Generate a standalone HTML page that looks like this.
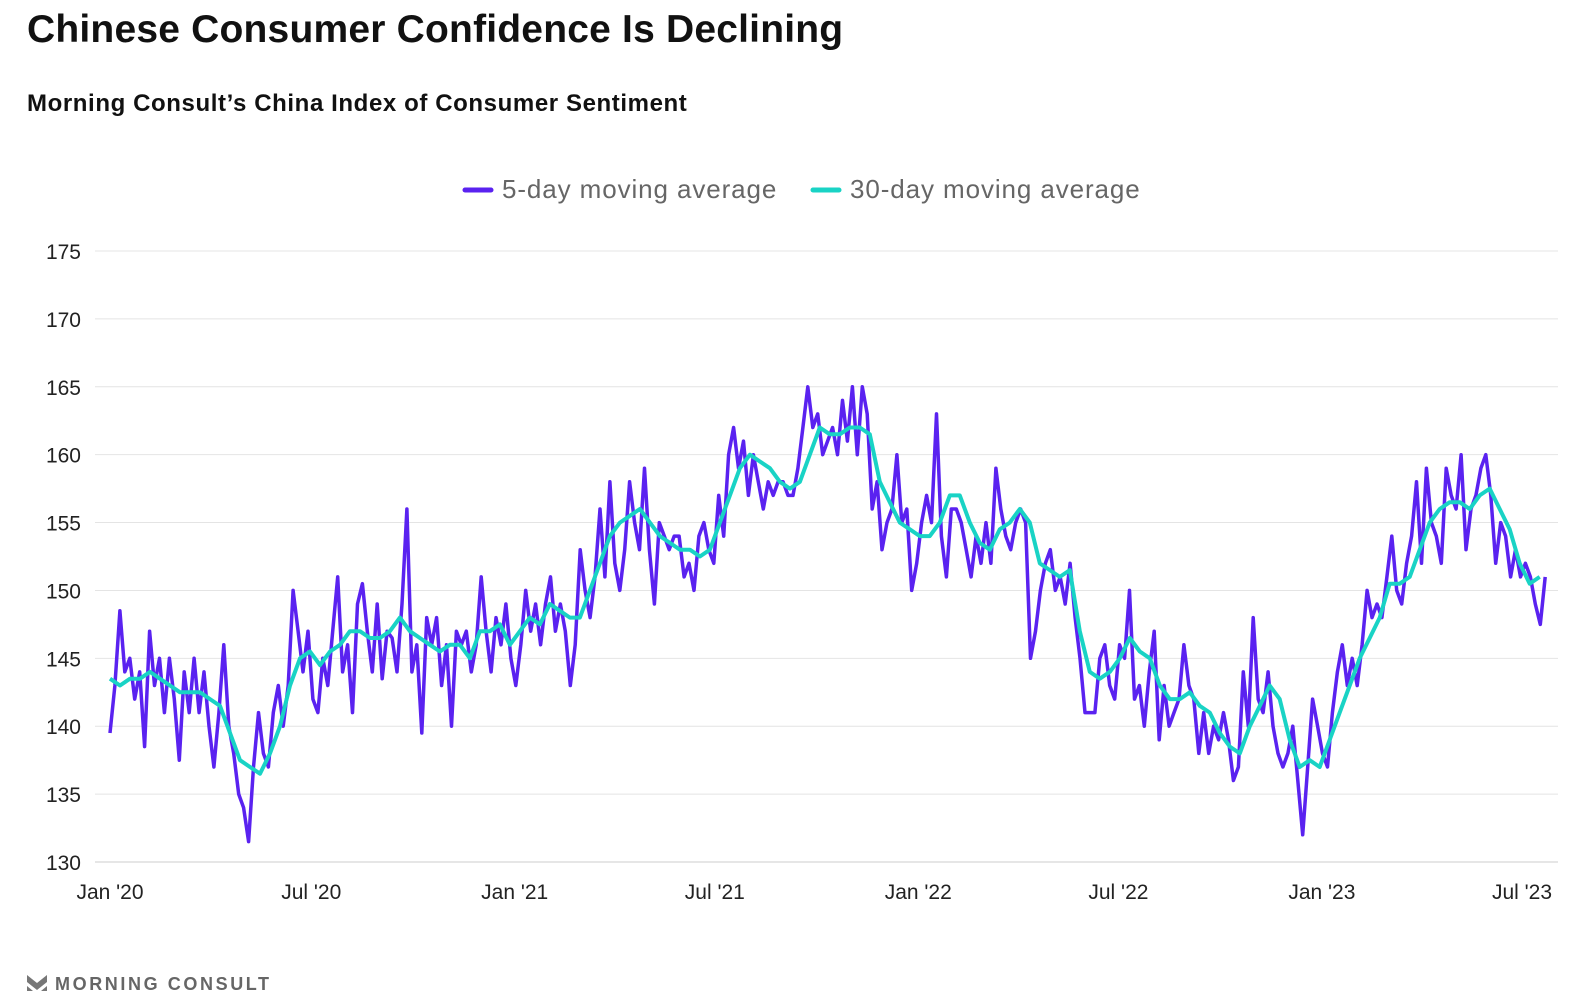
<!DOCTYPE html>
<html><head><meta charset="utf-8">
<style>
body{margin:0;width:1571px;height:1001px;background:#fff;font-family:"Liberation Sans",sans-serif;overflow:hidden;position:relative}
#title{position:absolute;left:27px;top:8px;font-size:39px;font-weight:bold;color:#111;margin:0;letter-spacing:0.2px}
#sub{position:absolute;left:27px;top:90px;font-size:24px;font-weight:bold;color:#111;margin:0;letter-spacing:0.6px}
#logo{position:absolute;left:27px;top:972px;font-size:18px;font-weight:bold;color:#666;letter-spacing:2.6px}
svg{position:absolute;left:0;top:0}
</style></head><body>
<h1 id="title">Chinese Consumer Confidence Is Declining</h1>
<h2 id="sub">Morning Consult’s China Index of Consumer Sentiment</h2>
<div id="logo"><svg width="20" height="18" style="position:relative;left:0;top:3px;margin-right:8px"><path d="M0 0 L10 8 L20 0 L20 7 L10 15 L0 7Z M0 11 L6 16 L0 16Z M20 11 L14 16 L20 16Z" fill="#777"/></svg>MORNING CONSULT</div>
<svg id="chart" width="1571" height="1001"></svg>
<script>
const yTicks=[130,135,140,145,150,155,160,165,170,175];
const xTickLabels=["Jan '20","Jul '20","Jan '21","Jul '21","Jan '22","Jul '22","Jan '23","Jul '23"];
const xTickDays=[0,182,366,547,731,912,1096,1277];
const fiveDayStart=0, fiveDayEnd=1298;
const fiveDay=[139.5,143,148.5,144,145,142,144,138.5,147,143,145,141,145,142,137.5,144,141,145,141,144,140,137,141,146,140,138,135,134,131.5,137,141,138,137,141,143,140,143,150,147,144,147,142,141,145,143,147,151,144,146,141,149,150.5,147,144,149,143.5,147,146.5,144,149,156,144,146,139.5,148,146,148,143,146,140,147,146,147,144,146,151,147,144,148,146,149,145,143,146,150,147,149,146,149,151,147,149,147,143,146,153,150,148,151,156,151,158,152,150,153,158,155,153,159,153,149,155,154,153,154,154,151,152,150,154,155,153,152,157,154,160,162,159,161,157,160,158,156,158,157,158,158,157,157,159,162,165,162,163,160,161,162,160,164,161,165,160,165,163,156,158,153,155,156,160,155,156,150,152,155,157,155,163,154,151,156,156,155,153,151,154,152,155,152,159,156,154,153,155,156,155,145,147,150,152,153,150,151,149,152,148,145,141,141,141,145,146,143,142,146,145,150,142,143,140,144,147,139,143,140,141,142,146,143,142,138,141,138,140,139,141,139,136,137,144,140,148,142,141,144,140,138,137,138,140,136,132,137,142,140,138,137,141,144,146,143,145,143,146,150,148,149,148,151,154,150,149,152,154,158,152,159,155,154,152,159,157,156,160,153,156,157,159,160,157,152,155,154,151,153,151,152,151,149,147.5,151];
const thirtyStart=0, thirtyEnd=1293;
const thirtyDay=[143.5,143,143.5,143.5,144,143.5,143,142.5,142.5,142.5,142,141.5,139.5,137.5,137,136.5,138,140,143,145,145.5,144.5,145.5,146,147,147,146.5,146.5,147,148,147,146.5,146,145.5,146,146,145,147,147,147.5,146,147,148,147.5,149,148.5,148,148,150,152,154,155,155.5,156,155,154,153.5,153,153,152.5,153,155,157,159,160,159.5,159,158,157.5,158,160,162,161.5,161.5,162,162,161.5,158,156.5,155,154.5,154,154,155,157,157,155,153.5,153,154.5,155,156,155,152,151.5,151,151.5,147,144,143.5,144,145,146.5,145.5,145,143,142,142,142.5,141.5,141,139.5,138.5,138,140,141.5,143,142,139,137,137.5,137,139,141,143,145,146.5,148,150.5,150.5,151,153,155,156,156.5,156.5,156,157,157.5,156,154.5,152,150.5,151];

const NS="http://www.w3.org/2000/svg";
const svg=document.getElementById('chart');
const X=d=>110+d*(1522-110)/1277;
const Y=v=>862-(v-130)*(862-251)/45;
function mk(tag,attrs,parent){const e=document.createElementNS(NS,tag);for(const k in attrs)e.setAttribute(k,attrs[k]);(parent||svg).appendChild(e);return e;}
yTicks.forEach(t=>{
  const l=mk('line',{x1:95,x2:1558,y1:Y(t),y2:Y(t),stroke:t===130?'#ccc':'#e4e4e4','stroke-width':1});
  
  
  const tx=mk('text',{x:81,y:Y(t)+8,'text-anchor':'end','font-size':21,fill:'#222','font-family':'Liberation Sans'});
  tx.textContent=t;
  
  
});
xTickLabels.forEach((lab,i)=>{
  const tx=mk('text',{x:X(xTickDays[i]),y:899,'text-anchor':'middle','font-size':21,fill:'#222','font-family':'Liberation Sans'});
  tx.textContent=lab;
  
  
});
function series(vals,s,e,color,w,name){
  const step=(e-s)/(vals.length-1);
  const d=vals.map((v,i)=>(i?'L':'M')+X(s+i*step).toFixed(1)+' '+Y(v).toFixed(1)).join('');
  const p=mk('path',{d:d,fill:'none',stroke:color,'stroke-width':w,'stroke-linejoin':'round'});
  
  
}
series(fiveDay,fiveDayStart,fiveDayEnd,'#5a22f0',3.5,'five-day-line');
series(thirtyDay,thirtyStart,thirtyEnd,'#19d3c5',4,'thirty-day-line');
[['5-day moving average','#5a22f0',465],['30-day moving average','#19d3c5',813]].forEach((L,i)=>{
  const g=mk('g',{});
  
  
  mk('line',{x1:L[2],x2:L[2]+26,y1:190,y2:190,stroke:L[1],'stroke-width':5,'stroke-linecap':'round'},g);
  const t=mk('text',{x:L[2]+37,y:198,'font-size':26,fill:'#666','font-family':'Liberation Sans','letter-spacing':'0.9'},g);
  t.textContent=L[0];
});
</script>
</body></html>
